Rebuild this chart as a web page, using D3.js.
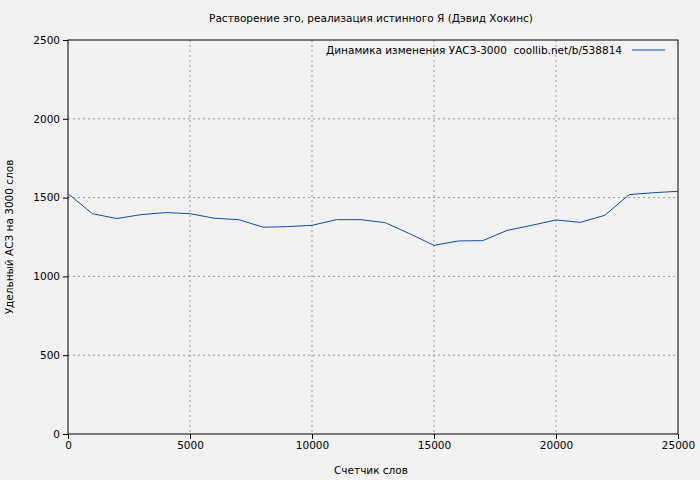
<!DOCTYPE html><html><head><meta charset="utf-8"><script src="https://d3js.org/d3.v7.min.js"></script>
<style>body{margin:0;background:#f2f2f2}text{font-family:"DejaVu Sans",sans-serif;font-size:10.5px;fill:#000}</style></head><body><svg width="700" height="480"></svg><script>
const xs=[0,1000,2000,3000,4000,5000,6000,7000,8000,9000,10000,11000,12000,13000,14000,15000,16000,17000,18000,19000,20000,21000,22000,23000,24000,25000];
const ys=[1525,1398,1367,1392,1405,1398,1369,1360,1312,1316,1324,1360,1360,1341,1271,1197,1225,1227,1292,1324,1358,1343,1388,1519,1531,1540];
const xTicks=[0,5000,10000,15000,20000,25000];
const yTicks=[0,500,1000,1500,2000,2500];
const svg=d3.select("svg");
svg.append("rect").attr("width",700).attr("height",480).attr("fill","#f2f2f2");
const x=d3.scaleLinear().domain([0,25000]).range([68,678]);
const y=d3.scaleLinear().domain([0,2500]).range([434,40]);
const g=svg.append("g");
g.selectAll(".vx").data(xTicks.slice(1,-1)).join("line").attr("x1",d=>x(d)).attr("x2",d=>x(d)).attr("y1",40).attr("y2",434).attr("stroke","#999").attr("stroke-dasharray","2,3");
g.selectAll(".hy").data(yTicks.slice(1,-1)).join("line").attr("y1",d=>y(d)).attr("y2",d=>y(d)).attr("x1",68).attr("x2",678).attr("stroke","#999").attr("stroke-dasharray","2,3");
svg.append("rect").attr("x",68).attr("y",40).attr("width",610).attr("height",394).attr("fill","none").attr("stroke","#000");
svg.append("g").attr("transform","translate(0,434)").call(d3.axisBottom(x).tickValues(xTicks).tickFormat(d3.format("d")).tickSize(5).tickSizeOuter(0)).call(a=>a.select(".domain").remove()).selectAll("text").style("font-size","10.5px");
svg.append("g").attr("transform","translate(68,0)").call(d3.axisLeft(y).tickValues(yTicks).tickFormat(d3.format("d")).tickSize(5).tickSizeOuter(0)).call(a=>a.select(".domain").remove()).selectAll("text").style("font-size","10.5px");
svg.append("path").datum(xs.map((d,i)=>[d,ys[i]])).attr("fill","none").attr("stroke","#0b4fb5").attr("stroke-width",1).attr("d",d3.line().x(d=>x(d[0])).y(d=>y(d[1])));
svg.append("text").attr("x",371).attr("y",22).attr("text-anchor","middle").text("Растворение эго, реализация истинного Я (Дэвид Хокинс)");
svg.append("text").attr("x",371).attr("y",474).attr("text-anchor","middle").text("Счетчик слов");
svg.append("text").attr("transform","translate(13,237) rotate(-90)").attr("text-anchor","middle").text("Удельный АСЗ на 3000 слов");
svg.append("text").attr("x",622).attr("y",54).attr("text-anchor","end").text("Динамика изменения УАСЗ-3000  coollib.net/b/538814").attr("xml:space","preserve").style("white-space","pre");
svg.append("line").attr("x1",632).attr("x2",665).attr("y1",50).attr("y2",50).attr("stroke","#0b4fb5");
</script></body></html>
